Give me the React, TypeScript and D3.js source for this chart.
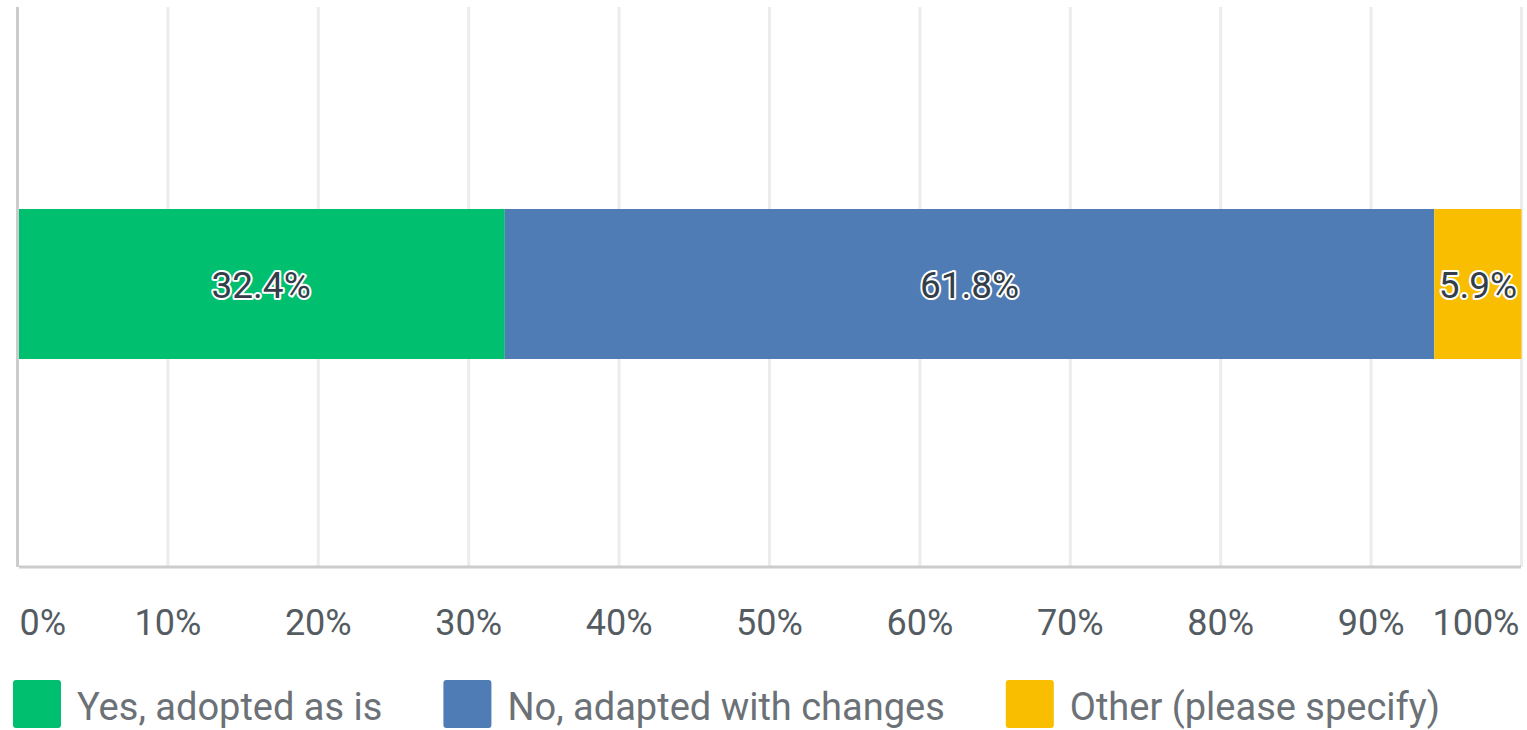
import React, { useEffect, useRef } from 'react';
import * as d3 from 'd3';

const answers = ['Yes, adopted as is', 'No, adapted with changes', 'Other (please specify)'];
const percents = [32.4, 61.8, 5.9];
const colors = ['#00bf6f', '#507cb6', '#f9be00'];
const ticks = [0, 10, 20, 30, 40, 50, 60, 70, 80, 90, 100];

const App = () => {
  const svgRef = useRef<SVGSVGElement | null>(null);

  useEffect(() => {
    document.body.style.margin = '0';
    const svg = d3.select(svgRef.current);
    svg.selectAll('*').remove();

    const width = 1527;
    const height = 730;
    const font = 'Roboto, "Open Sans", sans-serif';
    const top = 7;
    const bottom = 567;

    svg.attr('width', width).attr('height', height);

    const x = d3.scaleLinear().domain([0, 100]).range([17.5, 1521.5]).clamp(true);
    const y = d3.scaleBand().domain(['q']).range([top - 3, bottom - 3]).padding(0.5775);

    // gridlines
    svg
      .append('g')
      .selectAll('line')
      .data(ticks.slice(1))
      .join('line')
      .attr('x1', (d) => x(d))
      .attr('x2', (d) => x(d))
      .attr('y1', top)
      .attr('y2', bottom)
      .attr('stroke', '#ececec')
      .attr('stroke-width', 3);

    // stacked bar
    let acc = 0;
    const stacked = percents.map((v, i) => {
      const start = acc;
      acc += v;
      return { v, start, end: acc, color: colors[i] };
    });

    const bars = svg.append('g');
    bars
      .selectAll('rect')
      .data(stacked)
      .join('rect')
      .attr('x', (d) => x(d.start))
      .attr('width', (d) => x(d.end) - x(d.start))
      .attr('y', y('q') as number)
      .attr('height', y.bandwidth())
      .attr('fill', (d) => d.color);

    bars
      .selectAll('text')
      .data(stacked)
      .join('text')
      .attr('x', (d) => (x(d.start) + x(d.end)) / 2)
      .attr('y', (y('q') as number) + y.bandwidth() / 2 + 14)
      .attr('text-anchor', 'middle')
      .attr('font-family', font)
      .attr('font-size', 37)
      .attr('fill', '#333e48')
      .attr('stroke', '#ffffff')
      .attr('stroke-width', 4)
      .attr('stroke-linejoin', 'round')
      .attr('paint-order', 'stroke')
      .text((d) => `${d.v}%`);

    // axes lines
    svg
      .append('line')
      .attr('x1', 17.5)
      .attr('x2', 17.5)
      .attr('y1', top)
      .attr('y2', bottom)
      .attr('stroke', '#cccccc')
      .attr('stroke-width', 3);
    svg
      .append('line')
      .attr('x1', 19)
      .attr('x2', 1521)
      .attr('y1', bottom)
      .attr('y2', bottom)
      .attr('stroke', '#cccccc')
      .attr('stroke-width', 3);

    // tick labels
    svg
      .append('g')
      .selectAll('text')
      .data(ticks)
      .join('text')
      .attr('x', (d) => (d === 0 ? x(d) + 2 : d === 100 ? x(d) - 2 : x(d)))
      .attr('y', 635)
      .attr('text-anchor', (d) => (d === 0 ? 'start' : d === 100 ? 'end' : 'middle'))
      .attr('font-family', font)
      .attr('font-size', 36)
      .attr('fill', '#545c62')
      .text((d) => `${d}%`);

    // legend
    const legend = svg.append('g');
    let lx = 13;
    answers.forEach((name, i) => {
      const g = legend.append('g').attr('transform', `translate(${lx},680)`);
      g.append('rect')
        .attr('width', 48)
        .attr('height', 48)
        .attr('rx', 3)
        .attr('fill', colors[i]);
      const t = g
        .append('text')
        .attr('x', 64)
        .attr('y', 40)
        .attr('font-family', font)
        .attr('font-size', 38)
        .attr('fill', '#6b7176')
        .text(name);
      const len = (t.node() as SVGTextElement).getComputedTextLength();
      lx += 64 + len + 61;
    });
  }, []);

  return <svg ref={svgRef}></svg>;
};

export default App;
